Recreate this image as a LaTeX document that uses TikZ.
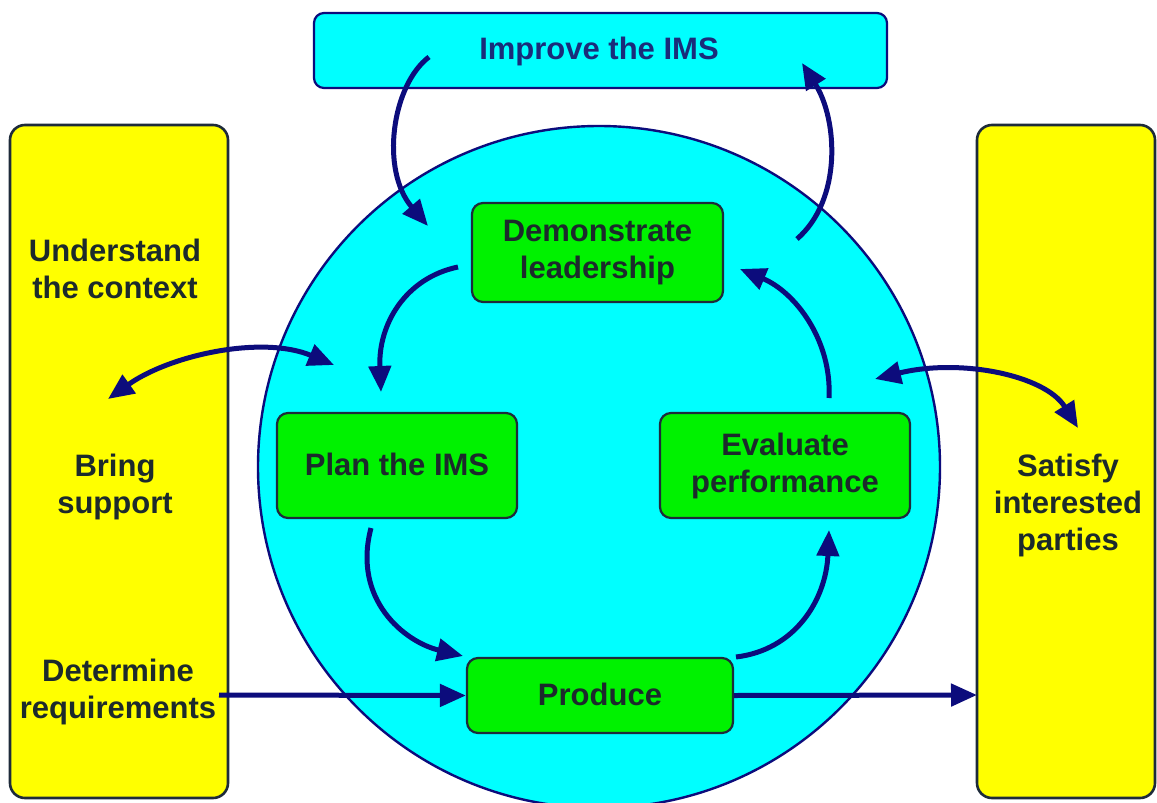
\documentclass[tikz,border=0pt]{standalone}
\usepackage{fontspec}
\setmainfont{Liberation Sans}
\usetikzlibrary{arrows.meta}
\definecolor{cyanf}{HTML}{00FFFF}
\definecolor{greenf}{HTML}{00F200}
\definecolor{yellowf}{HTML}{FFFF00}
\definecolor{navy}{HTML}{0C0C7C}
\definecolor{txt}{HTML}{1C2A2C}
\definecolor{bord}{HTML}{1E2B3A}
\definecolor{imstxt}{HTML}{1A2C7A}
\begin{document}
\begin{tikzpicture}[x=1pt,y=-1pt,
  lbl/.style={font=\bfseries\fontsize{31}{37}\selectfont, text=txt, align=center, inner sep=0pt},
  gbox/.style={draw=bord, line width=2.2pt, fill=greenf, rounded corners=11pt, inner sep=0pt},
  ybox/.style={draw=bord, line width=2.6pt, fill=yellowf, rounded corners=15pt, inner sep=0pt},
  flow/.style={draw=navy, line width=5pt, -{Triangle[length=26pt,width=22pt]}},
  both/.style={draw=navy, line width=5pt, {Triangle[length=26pt,width=22pt]}-{Triangle[length=26pt,width=22pt]}}]
\useasboundingbox (0,0) rectangle (1157,803);
\clip (0,0) rectangle (1157,803);
\fill[white] (0,0) rectangle (1157,803);

% side panels
\node[ybox, minimum width=218pt, minimum height=673pt] (leftp) at (119,461.5) {};
\node[ybox, minimum width=178pt, minimum height=673pt] (rightp) at (1066,461.5) {};

% big circle
\node[circle, draw=navy, line width=2.4pt, fill=cyanf, minimum size=682pt, inner sep=0pt] (circ) at (599,467) {};

% improve box
\node[draw=navy, line width=2.2pt, fill=cyanf, rounded corners=10pt, minimum width=573pt, minimum height=75pt, inner sep=0pt] (improve) at (600.5,50.5) {};
\node[lbl, text=imstxt] (improvet) at (599,51) {Improve the IMS};

% green boxes
\node[gbox, minimum width=251pt, minimum height=99pt] (demo) at (597.5,252.5) {};
\node[lbl] (demot) at (597.5,253) {Demonstrate\\leadership};
\node[gbox, minimum width=240pt, minimum height=105pt] (plan) at (397,465.5) {};
\node[lbl] (plant) at (397,464) {Plan the IMS};
\node[gbox, minimum width=250pt, minimum height=105pt] (eval) at (785,465.5) {};
\node[lbl] (evalt) at (785,466) {Evaluate\\performance};
\node[gbox, minimum width=266pt, minimum height=75pt] (prod) at (600,695.5) {};
\node[lbl] (prodt) at (600,694) {Produce};

% side texts
\node[lbl] (underst) at (115,269) {Understand\\the context};
\node[lbl] (bring) at (115,487) {Bring\\support};
\node[lbl] (determ) at (118,692) {Determine\\requirements};
\node[lbl] (satisfy) at (1068,505) {Satisfy\\interested\\parties};

% connector end points
\coordinate (a1s) at (429,57);
\coordinate (a1e) at (428,226);
\coordinate (a2s) at (458,267);
\coordinate (a2e) at (381,392);
\coordinate (a3l) at (108,399);
\coordinate (a3r) at (334,365);
\coordinate (a4s) at (371,528);
\coordinate (a4e) at (463,656);
\coordinate (a5s) at (219,695);
\coordinate (a6e) at (977,695);
\coordinate (a7s) at (736,657);
\coordinate (a7e) at (829,530);
\coordinate (a8s) at (829,398);
\coordinate (a8e) at (740,269);
\coordinate (a9l) at (875,379);
\coordinate (a9r) at (1078,428);
\coordinate (a10s) at (797,239);
\coordinate (a10e) at (802,63);

% connectors
\draw[flow] (a1s) .. controls (392,85) and (380,170) .. (a1e);
\draw[flow] (a2s) .. controls (405,278) and (378,325) .. (a2e);
\draw[both] (a3l) .. controls (170,355) and (262,335) .. (a3r);
\draw[flow] (a4s) .. controls (352,600) and (405,642) .. (a4e);
\draw[flow] (a5s) -- (prod.west);
\draw[flow] (prod.east) -- (a6e);
\draw[flow] (a7s) .. controls (795,650) and (826,600) .. (a7e);
\draw[flow] (a8s) .. controls (832,340) and (795,292) .. (a8e);
\draw[both] (a9l) .. controls (960,358) and (1045,375) .. (a9r);
\draw[flow] (a10s) .. controls (842,200) and (838,120) .. (a10e);
\end{tikzpicture}
\end{document}
